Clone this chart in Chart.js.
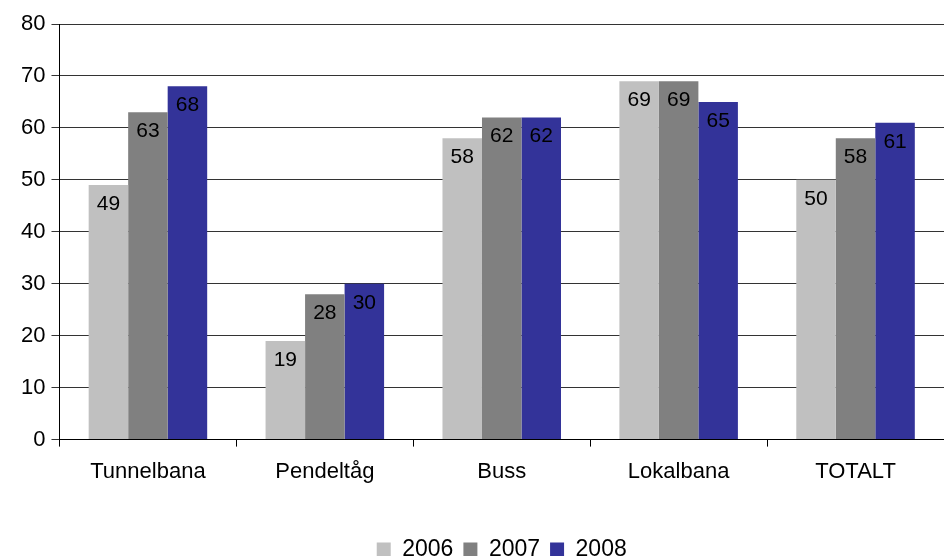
<!DOCTYPE html>
<html>
<head>
<meta charset="utf-8">
<script src="https://cdn.jsdelivr.net/npm/chart.js@4"></script>
<style>
  html, body { margin: 0; padding: 0; background: #fff; }
  #wrap { width: 944px; height: 556px; }
</style>
</head>
<body>
<div id="wrap"><canvas id="chart" width="944" height="556"></canvas></div>
<script>
const categories = ['Tunnelbana', 'Pendeltåg', 'Buss', 'Lokalbana', 'TOTALT'];
const years = ['2006', '2007', '2008'];
const values2006 = [49, 19, 58, 69, 50];
const values2007 = [63, 28, 62, 69, 58];
const values2008 = [68, 30, 62, 65, 61];
const yTicks = [0, 10, 20, 30, 40, 50, 60, 70, 80];

const colors = ['#C0C0C0', '#808080', '#333399'];
const FONT = 'Arial, "Liberation Sans", sans-serif';

// values drawn inside the top of each bar
const barLabels = {
  id: 'barLabels',
  afterDatasetsDraw(chart) {
    const ctx = chart.ctx;
    ctx.save();
    ctx.font = '21px ' + FONT;
    ctx.fillStyle = '#000';
    ctx.textAlign = 'center';
    ctx.textBaseline = 'middle';
    chart.data.datasets.forEach((ds, i) => {
      chart.getDatasetMeta(i).data.forEach((bar, j) => {
        ctx.fillText(String(ds.data[j]), bar.x, bar.y + 19);
      });
    });
    ctx.restore();
  }
};

new Chart(document.getElementById('chart'), {
  type: 'bar',
  data: {
    labels: categories,
    datasets: [values2006, values2007, values2008].map((data, i) => ({
      label: years[i],
      data,
      backgroundColor: colors[i],
      borderWidth: 0,
      barPercentage: 1.0,
      categoryPercentage: 0.67
    }))
  },
  options: {
    responsive: false,
    animation: false,
    layout: { padding: { top: 24, right: -10, left: 15, bottom: -15 } },
    scales: {
      x: {
        grid: {
          offset: true,
          drawOnChartArea: false,
          drawTicks: true,
          tickLength: 7,
          color: '#000'
        },
        border: { color: '#000', width: 1 },
        ticks: { color: '#000', font: { family: FONT, size: 22 }, padding: 12 },
        afterFit(axis) { axis.height += 31; }
      },
      y: {
        min: 0,
        max: 80,
        afterBuildTicks(axis) { axis.ticks = yTicks.map(v => ({ value: v })); },
        grid: { color: '#333', lineWidth: 1, drawTicks: true, tickLength: 8 },
        border: { color: '#000', width: 1 },
        ticks: { color: '#000', font: { family: FONT, size: 22 }, padding: 6 }
      }
    },
    plugins: {
      legend: {
        position: 'bottom',
        fullSize: false,
        labels: {
          color: '#000',
          font: { family: FONT, size: 23 },
          boxWidth: 14,
          boxHeight: 14,
          padding: 10
        }
      },
      tooltip: { enabled: false }
    }
  },
  plugins: [barLabels]
});
</script>
</body>
</html>
